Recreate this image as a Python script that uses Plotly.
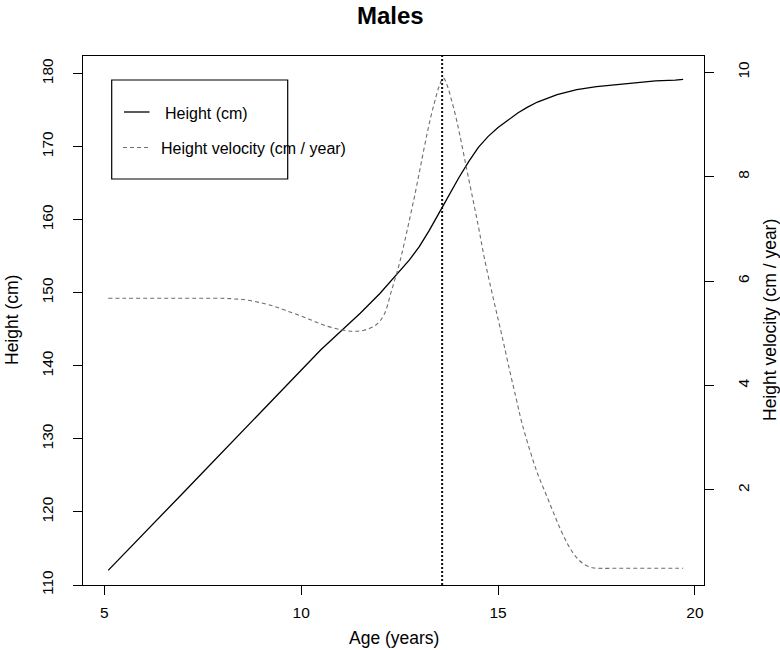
import plotly.graph_objects as go

# ---- data ----
age_h = [5.1, 5.5, 6.0, 6.5, 7.0, 7.5, 8.0, 8.5, 9.0, 9.5, 10.0, 10.5, 11.0, 11.5,
         12.0, 12.5, 12.75, 13.0, 13.25, 13.5, 13.75, 14.0, 14.25, 14.5, 14.75,
         15.0, 15.25, 15.5, 15.75, 16.0, 16.5, 17.0, 17.5, 18.0, 18.5, 19.0, 19.5, 19.7]
height = [112.0, 114.2, 117.0, 119.8, 122.6, 125.4, 128.2, 131.1, 133.9, 136.7,
          139.4, 142.2, 144.7, 147.2, 149.9, 152.9, 154.5, 156.3, 158.5, 160.9,
          163.4, 165.7, 167.9, 169.9, 171.4, 172.6, 173.6, 174.6, 175.4, 176.1,
          177.1, 177.8, 178.2, 178.5, 178.7, 179.0, 179.1, 179.2]

age_v = [5.1, 5.5, 6.0, 6.5, 7.0, 7.5, 8.0, 8.3, 8.6, 9.0, 9.3, 9.6, 10.0, 10.3,
         10.6, 11.0, 11.3, 11.6, 11.9, 12.1, 12.3, 12.5, 12.7, 12.9, 13.05, 13.2,
         13.3, 13.4, 13.5, 13.61, 13.72, 13.82, 13.92, 14.02, 14.17, 14.33, 14.5,
         14.65, 14.9, 15.1, 15.3, 15.47, 15.6, 15.8, 16.0, 16.2, 16.4, 16.6, 16.8,
         17.0, 17.2, 17.4, 17.55, 18.0, 18.5, 19.0, 19.5, 19.7]
velocity = [5.67, 5.67, 5.67, 5.67, 5.67, 5.67, 5.67, 5.66, 5.64, 5.58, 5.52, 5.44,
            5.33, 5.24, 5.15, 5.07, 5.04, 5.06, 5.16, 5.35, 5.83, 6.35, 7.00, 7.70,
            8.27, 8.83, 9.17, 9.46, 9.72, 9.89, 9.72, 9.46, 9.17, 8.83, 8.27, 7.68,
            7.05, 6.45, 5.60, 4.95, 4.27, 3.72, 3.30, 2.78, 2.32, 1.95, 1.58, 1.22,
            0.92, 0.70, 0.57, 0.51, 0.50, 0.50, 0.50, 0.50, 0.50, 0.50]

peak_age = 13.58

x_ticks = [5, 10, 15, 20]
h_ticks = [110, 120, 130, 140, 150, 160, 170, 180]
v_ticks = [2, 4, 6, 8, 10]

FONT = "Liberation Sans, Arial, Helvetica, sans-serif"
GRAY = "#6e6e6e"

fig = go.Figure()
fig.add_trace(go.Scatter(x=age_h, y=height, mode="lines", name="Height (cm)",
                         line=dict(color="black", width=1.3), yaxis="y"))
fig.add_trace(go.Scatter(x=age_v, y=velocity, mode="lines",
                         name="Height velocity (cm / year)",
                         line=dict(color=GRAY, width=1.1, dash="4px,3px"),
                         yaxis="y2", line_shape="spline"))

# plot area in pixels: x 83..704, y 56..585
def px(xp):
    return (xp - 83) / 621.0

def py(yp):
    return (585 - yp) / 529.0

shapes = [
    dict(type="line", xref="x", yref="paper", x0=peak_age, x1=peak_age, y0=0, y1=1,
         line=dict(color="#111111", width=2, dash="2px,2px")),
    dict(type="rect", xref="paper", yref="paper", x0=px(111.7), x1=px(287.7),
         y0=py(179), y1=py(80), line=dict(color="black", width=1.2)),
    dict(type="line", xref="paper", yref="paper", x0=px(124), x1=px(149.5),
         y0=py(112), y1=py(112), line=dict(color="black", width=1.3)),
    dict(type="line", xref="paper", yref="paper", x0=px(123), x1=px(148.5),
         y0=py(147.5), y1=py(147.5), line=dict(color=GRAY, width=1.1, dash="4px,3px")),
]

annotations = [
    dict(text="Height (cm)", xref="paper", yref="paper", x=px(163), y=py(113),
         xanchor="left", yanchor="middle", showarrow=False,
         font=dict(family=FONT, size=16, color="black")),
    dict(text="Height velocity (cm / year)", xref="paper", yref="paper", x=px(159),
         y=py(148), xanchor="left", yanchor="middle", showarrow=False,
         font=dict(family=FONT, size=16, color="black")),
    dict(text="Age (years)", xref="paper", yref="paper", x=px(393.5), y=py(638),
         xanchor="center", yanchor="middle", showarrow=False,
         font=dict(family=FONT, size=17.5, color="black")),
    dict(text="Height (cm)", xref="paper", yref="paper", x=px(12), y=py(320),
         xanchor="center", yanchor="middle", showarrow=False, textangle=-90,
         font=dict(family=FONT, size=17.5, color="black")),
    dict(text="Height velocity (cm / year)", xref="paper", yref="paper", x=px(770),
         y=py(320), xanchor="center", yanchor="middle", showarrow=False, textangle=-90,
         font=dict(family=FONT, size=17.5, color="black")),
    dict(text="<b>Males</b>", xref="paper", yref="paper", x=px(390), y=py(16),
         xanchor="center", yanchor="middle", showarrow=False,
         font=dict(family=FONT, size=24, color="black")),
]

axis_common = dict(showgrid=False, zeroline=False, showline=True, linecolor="black",
                   linewidth=1.2, ticks="outside", ticklen=9, tickwidth=1.2,
                   tickcolor="black",
                   tickfont=dict(family=FONT, size=15.5, color="black"))

fig.update_layout(
    width=780, height=650,
    margin=dict(l=83, r=76, t=56, b=65),
    paper_bgcolor="white", plot_bgcolor="white",
    showlegend=False,
    xaxis=dict(range=[4.46, 20.23], tickvals=x_ticks, mirror=True,
               ticklabelstandoff=4, **axis_common),
    yaxis=dict(range=[110, 182.4], tickvals=h_ticks, tickangle=-90, mirror=True,
               ticklabelstandoff=14, **axis_common),
    yaxis2=dict(range=[0.18, 10.31], tickvals=v_ticks, tickangle=-90,
                overlaying="y", side="right", ticklabelstandoff=16, **axis_common),
    shapes=shapes,
    annotations=annotations,
)

fig.write_html("out.html", config={"displayModeBar": False},
               post_script="document.body.style.margin='0';document.body.style.overflow='hidden';")
